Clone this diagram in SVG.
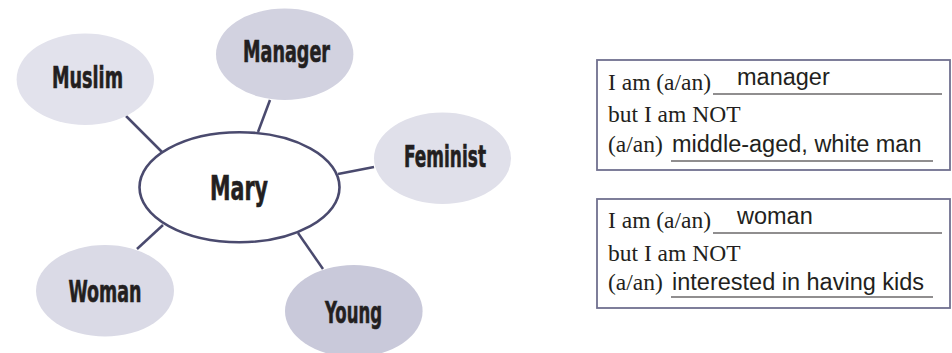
<svg xmlns="http://www.w3.org/2000/svg" width="952" height="353" viewBox="0 0 952 353">
<style>
.node text{font-family:"Liberation Sans Narrow","DejaVu Sans Condensed","Liberation Sans",sans-serif;font-weight:bold;font-size:30px;fill:#231f20;stroke:#231f20;stroke-width:0.6;text-anchor:middle}
.conn line{stroke:#4a4a6e;stroke-width:2.5;stroke-linecap:butt}
.box rect{fill:#ffffff;stroke:#70708f;stroke-width:1.8}
.serif{font-family:"Liberation Serif","Times New Roman",serif;font-size:23.5px;fill:#231f20}
.sans{font-family:"Liberation Sans",Arial,sans-serif;font-size:23.5px;fill:#231f20}
.ul{stroke:#231f20;stroke-width:1.2}
</style>
<rect width="952" height="353" fill="#ffffff"/>
<g id="connectors" class="conn">
<line x1="126" y1="116" x2="162" y2="152"/>
<line x1="270" y1="100" x2="258" y2="132"/>
<line x1="374" y1="167" x2="338" y2="174"/>
<line x1="137" y1="249" x2="163" y2="225"/>
<line x1="298" y1="233" x2="323" y2="269"/>
</g>
<g id="node-muslim" class="node">
<ellipse cx="85.3" cy="79.2" rx="68.7" ry="45.8" fill="#e2e2ec" stroke="none"/>
<text x="87.5" y="88" textLength="71" lengthAdjust="spacingAndGlyphs">Muslim</text>
</g>
<g id="node-manager" class="node">
<ellipse cx="284.7" cy="54.2" rx="68.7" ry="45.8" fill="#d2d2e0"/>
<text x="286.5" y="62" textLength="87" lengthAdjust="spacingAndGlyphs">Manager</text>
</g>
<g id="node-feminist" class="node">
<ellipse cx="442.5" cy="158.3" rx="68.5" ry="45.7" fill="#e0e0ea"/>
<text x="445" y="167" textLength="82" lengthAdjust="spacingAndGlyphs">Feminist</text>
</g>
<g id="node-woman" class="node">
<ellipse cx="105" cy="290.8" rx="69" ry="45.8" fill="#dadae6"/>
<text x="105" y="302" textLength="73" lengthAdjust="spacingAndGlyphs">Woman</text>
</g>
<g id="node-young" class="node">
<ellipse cx="353.8" cy="311" rx="68.8" ry="46" fill="#c9c9da"/>
<text x="353.5" y="323" textLength="57" lengthAdjust="spacingAndGlyphs">Young</text>
</g>
<g id="node-mary" class="node">
<ellipse cx="239.5" cy="187.2" rx="100" ry="55" fill="#ffffff" stroke="#4a4a6e" stroke-width="2.6"/>
<text x="239" y="200" style="font-size:34px" textLength="58" lengthAdjust="spacingAndGlyphs">Mary</text>
</g>
<g id="box-manager" class="box">
<rect x="597" y="60" width="353" height="110"/>
<text class="serif" x="608" y="90">I am (a/an)</text>
<line class="ul" x1="713" y1="94" x2="942" y2="94"/>
<text class="sans" x="737" y="85">manager</text>
<text class="serif" x="608" y="122">but I am NOT</text>
<text class="serif" x="608" y="152">(a/an)</text>
<text class="sans" x="672" y="152">middle-aged, white man</text>
<line class="ul" x1="671" y1="161" x2="933" y2="161"/>
</g>
<g id="box-woman" class="box">
<rect x="597" y="199" width="353" height="109"/>
<text class="serif" x="608" y="228">I am (a/an)</text>
<line class="ul" x1="713" y1="233" x2="942" y2="233"/>
<text class="sans" x="737" y="224">woman</text>
<text class="serif" x="608" y="261">but I am NOT</text>
<text class="serif" x="608" y="290">(a/an)</text>
<text class="sans" x="672" y="290">interested in having kids</text>
<line class="ul" x1="671" y1="297" x2="933" y2="297"/>
</g>
</svg>
